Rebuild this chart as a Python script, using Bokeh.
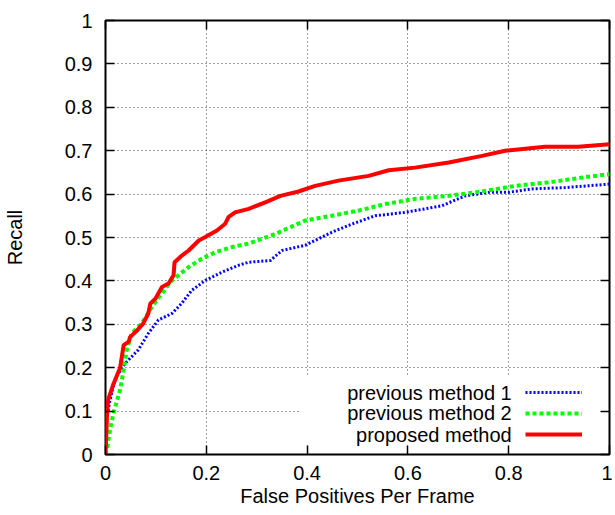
from bokeh.plotting import figure
from bokeh.models import (FixedTicker, LinearAxis, Legend, LegendItem, Label,
                          BoxAnnotation, Range1d)
from bokeh.embed import file_html
from bokeh.resources import INLINE

# ---------------- data ----------------
x_ticks = [0, 0.2, 0.4, 0.6, 0.8, 1.0]
x_tick_labels = ["0", "0.2", "0.4", "0.6", "0.8", "1"]
y_ticks = [0, 0.1, 0.2, 0.3, 0.4, 0.5, 0.6, 0.7, 0.8, 0.9, 1.0]
y_tick_labels = ["0", "0.1", "0.2", "0.3", "0.4", "0.5", "0.6", "0.7", "0.8", "0.9", "1"]

series_names = ["previous method 1", "previous method 2", "proposed method"]

prev1_x = [0, 0.002, 0.008, 0.016, 0.022, 0.039, 0.065, 0.085, 0.105, 0.132, 0.151,
           0.171, 0.198, 0.231, 0.264, 0.284, 0.327, 0.350, 0.396, 0.449, 0.489,
           0.535, 0.595, 0.667, 0.714, 0.760, 0.800, 0.846, 0.912, 1.0]
prev1_y = [0, 0.08, 0.12, 0.16, 0.18, 0.21, 0.241, 0.279, 0.310, 0.325, 0.348,
           0.378, 0.401, 0.420, 0.436, 0.443, 0.447, 0.470, 0.482, 0.512, 0.531,
           0.550, 0.558, 0.573, 0.596, 0.604, 0.604, 0.612, 0.615, 0.623]

prev2_x = [0, 0.004, 0.009, 0.016, 0.029, 0.036, 0.042, 0.052, 0.072, 0.092, 0.112,
           0.128, 0.145, 0.165, 0.191, 0.218, 0.251, 0.284, 0.337, 0.396, 0.449,
           0.502, 0.555, 0.614, 0.681, 0.747, 0.813, 0.879, 0.945, 1.0]
prev2_y = [0, 0.02, 0.057, 0.096, 0.149, 0.195, 0.240, 0.279, 0.302, 0.340, 0.371,
           0.397, 0.413, 0.432, 0.451, 0.466, 0.478, 0.486, 0.508, 0.539, 0.550,
           0.562, 0.577, 0.589, 0.596, 0.606, 0.619, 0.627, 0.638, 0.646]

prop_x = [0, 0.003, 0.005, 0.015, 0.029, 0.036, 0.046, 0.049, 0.062, 0.075, 0.085,
          0.089, 0.099, 0.112, 0.125, 0.135, 0.137, 0.150, 0.165, 0.185, 0.198,
          0.221, 0.237, 0.244, 0.257, 0.284, 0.317, 0.347, 0.383, 0.416, 0.462,
          0.522, 0.562, 0.614, 0.681, 0.747, 0.793, 0.872, 0.938, 1.0]
prop_y = [0, 0.09, 0.125, 0.16, 0.200, 0.252, 0.260, 0.271, 0.285, 0.302, 0.325,
          0.348, 0.359, 0.386, 0.394, 0.413, 0.443, 0.457, 0.470, 0.493, 0.501,
          0.516, 0.531, 0.547, 0.558, 0.566, 0.581, 0.596, 0.606, 0.619, 0.631,
          0.642, 0.655, 0.661, 0.673, 0.688, 0.700, 0.709, 0.709, 0.715]

FONT = "Liberation Sans"
FS = "20px"

p = figure(width=612, height=510, output_backend="svg", toolbar_location=None,
           x_range=Range1d(0, 1), y_range=Range1d(0, 1),
           min_border_left=105, min_border_right=3, min_border_top=20,
           min_border_bottom=56)
p.background_fill_color = "white"
p.border_fill_color = "white"
p.outline_line_color = "black"
p.outline_line_width = 2

# axes
for ax in (p.xaxis[0], p.yaxis[0]):
    ax.major_tick_in = 9
    ax.major_tick_out = 0
    ax.minor_tick_line_color = None
    ax.axis_line_color = None
    ax.major_tick_line_color = "black"
    ax.major_tick_line_width = 1.5
    ax.major_label_text_font = FONT
    ax.major_label_text_font_size = FS
    ax.major_label_text_color = "black"
    ax.axis_label_text_font = FONT
    ax.axis_label_text_font_size = FS
    ax.axis_label_text_font_style = "normal"
    ax.axis_label_text_color = "black"

p.xaxis[0].ticker = FixedTicker(ticks=x_ticks)
p.xaxis[0].major_label_overrides = dict(zip(x_ticks, x_tick_labels))
p.yaxis[0].ticker = FixedTicker(ticks=y_ticks)
p.yaxis[0].major_label_overrides = dict(zip(y_ticks, y_tick_labels))
p.xaxis[0].axis_label = "False Positives Per Frame"
p.yaxis[0].axis_label = "Recall"
p.xaxis[0].major_label_standoff = 11
p.xaxis[0].axis_label_standoff = 2
p.yaxis[0].major_label_standoff = 13
p.yaxis[0].axis_label_standoff = 36

# mirror axes (ticks only, empty labels)
top = LinearAxis(ticker=FixedTicker(ticks=x_ticks), major_tick_in=9, major_tick_out=0,
                 minor_tick_line_color=None, axis_line_color=None,
                 major_tick_line_width=1.5, major_label_standoff=0,
                 major_label_overrides={t: "" for t in x_ticks})
right = LinearAxis(ticker=FixedTicker(ticks=y_ticks), major_tick_in=9, major_tick_out=0,
                   minor_tick_line_color=None, axis_line_color=None,
                   major_tick_line_width=1.5, major_label_standoff=0,
                   major_label_overrides={t: "" for t in y_ticks})
p.add_layout(top, "above")
p.add_layout(right, "right")

# grid
p.grid.grid_line_color = "black"
p.grid.grid_line_alpha = 0.75
p.grid.grid_line_dash = "1 3"
p.grid.grid_line_width = 1
p.xgrid.ticker = FixedTicker(ticks=x_ticks)
p.ygrid.ticker = FixedTicker(ticks=y_ticks)

# legend background box hiding grid lines
box = BoxAnnotation(left=0.385, right=0.982, bottom=0.021, top=0.18,
                    fill_color="white", fill_alpha=1.0, line_color=None,
                    level="glyph")
p.add_layout(box)

r1 = p.line(prev1_x, prev1_y, line_color="#0000ff", line_width=3, line_dash="2 2")
r2 = p.line(prev2_x, prev2_y, line_color="#00ff00", line_width=4, line_dash="4 3")
r3 = p.line(prop_x, prop_y, line_color="#ff0000", line_width=4)

legend = Legend(items=[LegendItem(label="", renderers=[r]) for r in (r1, r2, r3)],
                location=(420, 10), glyph_width=57, glyph_height=20,
                label_height=20, label_width=0, label_standoff=0, spacing=1,
                padding=0, margin=0, background_fill_alpha=0,
                border_line_alpha=0)
p.add_layout(legend)

legend_text_y = [0.1406, 0.0945, 0.046]
for name, ty in zip(series_names, legend_text_y):
    p.add_layout(Label(x=0.806, y=ty, text=name, text_align="right",
                       text_baseline="middle", text_font=FONT,
                       text_font_size=FS, text_color="black"))

open("out.html", "w").write(file_html(p, INLINE))
